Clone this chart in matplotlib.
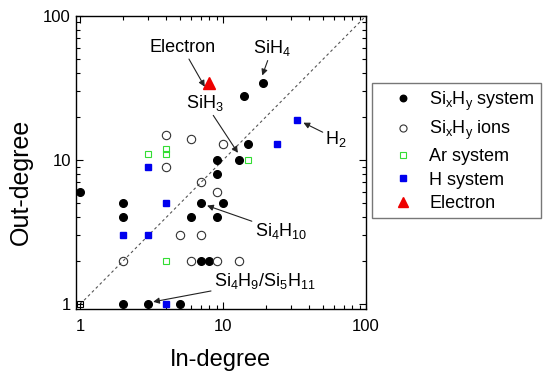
import matplotlib
matplotlib.use("Agg")
import matplotlib.pyplot as plt
from matplotlib.ticker import LogLocator, FixedLocator, NullFormatter

plt.rcParams['font.family'] = ['Liberation Sans', 'DejaVu Sans']
plt.rcParams['mathtext.fontset'] = 'custom'
plt.rcParams['mathtext.rm'] = 'Liberation Sans'
plt.rcParams['mathtext.it'] = 'Liberation Sans'
plt.rcParams['mathtext.default'] = 'regular'

# data (in-degree, out-degree)
sixhy_in = [19, 14, 15, 9, 13, 9, 1, 2, 7, 10, 2, 6, 9, 7, 8, 2, 3, 5]
sixhy_out = [34, 28, 13, 10, 10, 8, 6, 5, 5, 5, 4, 4, 4, 2, 2, 1, 1, 1]
ions_in = [4, 6, 10, 4, 7, 9, 5, 7, 2, 6, 9, 13]
ions_out = [15, 14, 13, 9, 7, 6, 3, 3, 2, 2, 2, 2]
ar_in = [3, 4, 4, 15, 4]
ar_out = [11, 12, 11, 10, 2]
h_in = [33, 24, 3, 4, 2, 3, 4]
h_out = [19, 13, 9, 5, 3, 3, 1]
el_in = [8]
el_out = [34]
diag = [1, 100]
xticks = [1, 10, 100]
xticklabels = ['1', '10', '100']

fig = plt.figure(figsize=(5.5, 3.76), dpi=100)
ax = fig.add_axes([0.1376, 0.178, 0.528, 0.780])

ax.plot(diag, diag, ls=(0, (2.5, 2.5)), color='#555555', lw=0.8, zorder=1)
ax.plot([diag[0]], [diag[0]], marker='s', ms=4, mfc='none', mec='k', mew=0.8, ls='none', zorder=1)

l1, = ax.plot(sixhy_in, sixhy_out, 'o', color='black', ms=5.5, ls='none', zorder=3)
l2, = ax.plot(ions_in, ions_out, 'o', mfc='none', mec='#333333', mew=0.8, ms=6, ls='none', zorder=3)
l3, = ax.plot(ar_in, ar_out, 's', mfc='none', mec='#33dd33', mew=0.8, ms=5, ls='none', zorder=3)
l4, = ax.plot(h_in, h_out, 's', color='#0000ee', ms=4.8, ls='none', zorder=3)
l5, = ax.plot(el_in, el_out, '^', color='#ee0000', ms=8, ls='none', zorder=3)

ax.set_xscale('log')
ax.set_yscale('log')
ax.set_xlim(0.93, 100)
ax.set_ylim(0.925, 100)
ax.xaxis.set_major_locator(FixedLocator(xticks))
ax.yaxis.set_major_locator(FixedLocator(xticks))
ax.set_xticklabels(xticklabels)
ax.set_yticklabels(xticklabels)
for a in (ax.xaxis, ax.yaxis):
    a.set_minor_locator(LogLocator(base=10, subs=range(2, 10)))
    a.set_minor_formatter(NullFormatter())
ax.tick_params(which='both', direction='in', top=True, right=True, labelsize=12, width=0.8)
ax.tick_params(which='major', length=5)
ax.tick_params(which='minor', length=3)
ax.tick_params(axis='x', pad=7)
for s in ax.spines.values():
    s.set_linewidth(1.0)

ax.set_xlabel('In-degree', fontsize=17, labelpad=11)
ax.set_ylabel('Out-degree', fontsize=18)
ax.yaxis.set_label_coords(-0.147, 0.433)

ap = dict(arrowstyle='-|>', color='#222222', lw=0.8, mutation_scale=9, shrinkA=0, shrinkB=2)
fs = 13
ax.annotate('Electron', xy=(7.6, 31), xytext=(5.2, 60), fontsize=fs,
            ha='center', va='center', arrowprops=ap)
ax.annotate('SiH$_4$', xy=(18.5, 37), xytext=(16.3, 60), fontsize=fs,
            ha='left', va='center', arrowprops=ap)
ax.annotate('SiH$_3$', xy=(13, 10.8), xytext=(5.5, 25), fontsize=fs,
            ha='left', va='center', arrowprops=ap)
ax.annotate('H$_2$', xy=(35, 18.5), xytext=(52, 14.0), fontsize=fs,
            ha='left', va='center', arrowprops=ap)
ax.annotate('Si$_4$H$_{10}$', xy=(7.4, 4.9), xytext=(16.6, 3.2), fontsize=fs,
            ha='left', va='center', arrowprops=ap)
ax.annotate('Si$_4$H$_9$/Si$_5$H$_{11}$', xy=(3.1, 1.03), xytext=(8.6, 1.45), fontsize=fs,
            ha='left', va='center', arrowprops=ap)

leg = fig.legend([l1, l2, l3, l4, l5],
                 ['Si$_x$H$_y$ system', 'Si$_x$H$_y$ ions', 'Ar system', 'H system', 'Electron'],
                 loc='upper left', bbox_to_anchor=(372/550, 1 - 83/376), fontsize=13,
                 frameon=True, fancybox=False, edgecolor='#555555', markerscale=0.85,
                 handlelength=2.74, handletextpad=0.07, borderpad=0.35, labelspacing=0.35,
                 borderaxespad=0)
leg.get_frame().set_linewidth(1.0)

fig.savefig('out.png', dpi=100)
